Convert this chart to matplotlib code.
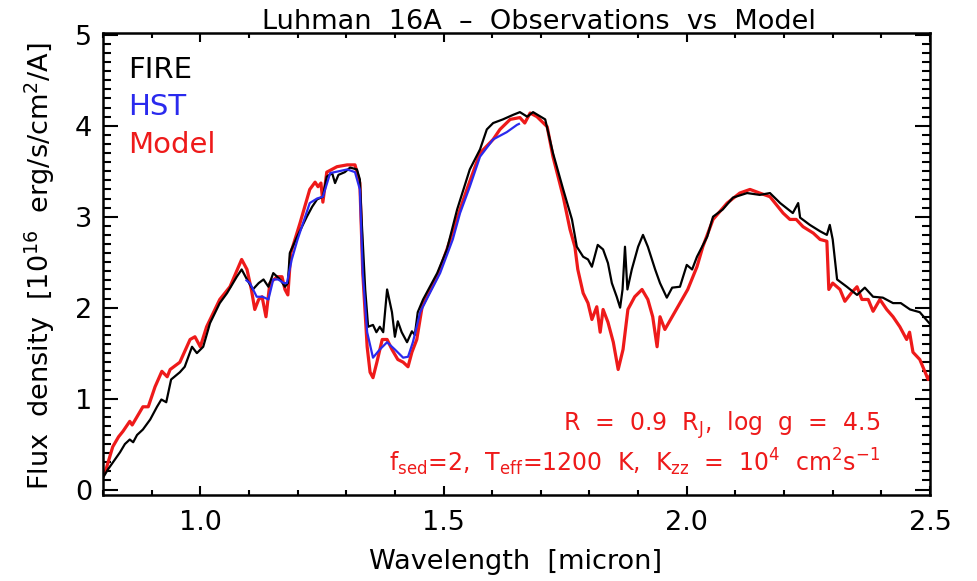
import matplotlib
matplotlib.use("Agg")
import matplotlib.pyplot as plt
from matplotlib.ticker import MultipleLocator

plt.rcParams['font.family'] = ['DejaVu Sans']
plt.rcParams['mathtext.default'] = 'regular'

# FIRE spectrum (black)
fire_wl = [0.800, 0.810, 0.835, 0.845, 0.855, 0.862, 0.870, 0.882, 0.897, 0.911,
           0.920, 0.930, 0.940, 0.958, 0.968, 0.983, 0.993, 1.006, 1.020, 1.040,
           1.055, 1.075, 1.085, 1.096, 1.108, 1.120, 1.130, 1.140, 1.150, 1.164,
           1.174, 1.180, 1.184, 1.199, 1.219, 1.230, 1.240, 1.252, 1.260, 1.271,
           1.277, 1.284, 1.297, 1.308, 1.322, 1.328, 1.332, 1.339, 1.345, 1.355,
           1.362, 1.369, 1.376, 1.384, 1.394, 1.400, 1.406, 1.414, 1.425, 1.435,
           1.441, 1.447, 1.458, 1.472, 1.487, 1.507, 1.528, 1.554, 1.575, 1.589,
           1.602, 1.622, 1.643, 1.657, 1.672, 1.684, 1.709, 1.725, 1.746, 1.764,
           1.774, 1.787, 1.797, 1.805, 1.817, 1.828, 1.838, 1.846, 1.856, 1.863,
           1.868, 1.873, 1.878, 1.887, 1.900, 1.910, 1.920, 1.935, 1.945, 1.959,
           1.970, 1.986, 2.000, 2.011, 2.021, 2.042, 2.054, 2.074, 2.095, 2.124,
           2.150, 2.171, 2.192, 2.218, 2.229, 2.233, 2.253, 2.274, 2.288, 2.294,
           2.300, 2.309, 2.329, 2.350, 2.366, 2.383, 2.403, 2.424, 2.440, 2.459,
           2.479, 2.500]
fire_flux = [0.13, 0.22, 0.41, 0.50, 0.55, 0.52, 0.60, 0.66, 0.77, 0.91,
             0.99, 0.96, 1.21, 1.29, 1.35, 1.57, 1.50, 1.57, 1.83, 2.05,
             2.16, 2.34, 2.42, 2.31, 2.20, 2.27, 2.31, 2.23, 2.38, 2.31,
             2.23, 2.27, 2.60, 2.78, 3.00, 3.11, 3.19, 3.22, 3.44, 3.48,
             3.37, 3.46, 3.49, 3.54, 3.52, 3.41, 2.93, 2.20, 1.79, 1.81,
             1.73, 1.79, 1.73, 2.20, 1.95, 1.68, 1.85, 1.73, 1.62, 1.74,
             1.70, 1.95, 2.09, 2.23, 2.38, 2.64, 3.08, 3.52, 3.74, 3.96,
             4.03, 4.07, 4.12, 4.15, 4.10, 4.15, 4.07, 3.70, 3.30, 2.97,
             2.67, 2.56, 2.53, 2.45, 2.69, 2.64, 2.49, 2.27, 2.12, 2.00,
             2.20, 2.67, 2.20, 2.42, 2.67, 2.80, 2.67, 2.42, 2.27, 2.11,
             2.22, 2.23, 2.47, 2.42, 2.56, 2.78, 3.00, 3.08, 3.21, 3.26,
             3.24, 3.26, 3.15, 3.04, 3.15, 2.99, 2.91, 2.84, 2.80, 2.91,
             2.75, 2.31, 2.23, 2.14, 2.22, 2.12, 2.11, 2.05, 2.05, 1.98,
             1.95, 1.82]

# HST spectrum (blue)
hst_wl = [1.095, 1.102, 1.116, 1.128, 1.140, 1.150, 1.160, 1.172, 1.178, 1.188,
          1.200, 1.225, 1.240, 1.252, 1.267, 1.285, 1.302, 1.318, 1.328, 1.334,
          1.343, 1.355, 1.369, 1.384, 1.400, 1.417, 1.427, 1.437, 1.452, 1.468,
          1.493, 1.519, 1.534, 1.554, 1.575, 1.602, 1.630, 1.651, 1.655]
hst_flux = [2.30, 2.27, 2.12, 2.12, 2.09, 2.31, 2.31, 2.27, 2.27, 2.53,
            2.75, 3.15, 3.20, 3.22, 3.48, 3.50, 3.52, 3.49, 3.30, 2.38,
            1.73, 1.45, 1.54, 1.62, 1.54, 1.45, 1.46, 1.62, 1.95, 2.12,
            2.38, 2.75, 3.04, 3.33, 3.66, 3.85, 3.93, 4.01, 4.02]

# Model spectrum (red)
model_wl = [0.800, 0.805, 0.820, 0.832, 0.841, 0.855, 0.860, 0.870, 0.882, 0.893,
            0.907, 0.921, 0.932, 0.938, 0.958, 0.979, 0.989, 1.000, 1.013, 1.040,
            1.061, 1.085, 1.096, 1.105, 1.112, 1.120, 1.127, 1.135, 1.143, 1.158,
            1.168, 1.174, 1.180, 1.186, 1.205, 1.225, 1.236, 1.242, 1.248, 1.252,
            1.260, 1.281, 1.302, 1.318, 1.328, 1.334, 1.343, 1.349, 1.355, 1.363,
            1.374, 1.384, 1.394, 1.406, 1.417, 1.427, 1.435, 1.445, 1.456, 1.466,
            1.487, 1.507, 1.534, 1.548, 1.575, 1.602, 1.616, 1.637, 1.657, 1.667,
            1.678, 1.692, 1.713, 1.725, 1.746, 1.760, 1.770, 1.776, 1.787, 1.797,
            1.805, 1.815, 1.822, 1.828, 1.838, 1.849, 1.859, 1.869, 1.879, 1.893,
            1.908, 1.920, 1.930, 1.939, 1.945, 1.955, 1.970, 1.986, 2.002, 2.021,
            2.033, 2.054, 2.083, 2.109, 2.130, 2.150, 2.171, 2.198, 2.212, 2.225,
            2.239, 2.260, 2.274, 2.288, 2.292, 2.300, 2.315, 2.325, 2.338, 2.350,
            2.360, 2.373, 2.383, 2.397, 2.411, 2.424, 2.438, 2.452, 2.458, 2.465,
            2.479, 2.490, 2.496, 2.500]
model_flux = [0.15, 0.20, 0.47, 0.58, 0.64, 0.75, 0.71, 0.80, 0.91, 0.91,
              1.13, 1.30, 1.24, 1.32, 1.40, 1.65, 1.68, 1.57, 1.79, 2.09,
              2.23, 2.53, 2.42, 2.20, 1.98, 2.09, 2.12, 1.90, 2.27, 2.34,
              2.34, 2.20, 2.14, 2.60, 2.93, 3.30, 3.38, 3.33, 3.37, 3.16,
              3.49, 3.55, 3.57, 3.57, 3.37, 2.38, 1.57, 1.29, 1.23, 1.40,
              1.65, 1.65, 1.54, 1.43, 1.40, 1.35, 1.51, 1.65, 2.01, 2.12,
              2.34, 2.64, 3.08, 3.30, 3.70, 3.85, 3.96, 4.07, 4.09, 4.03,
              4.14, 4.10, 3.99, 3.66, 3.22, 2.86, 2.67, 2.42, 2.16, 2.05,
              1.87, 2.01, 1.73, 1.98, 1.84, 1.62, 1.32, 1.54, 1.98, 2.12,
              2.20, 2.09, 1.90, 1.57, 1.90, 1.76, 1.90, 2.05, 2.20, 2.45,
              2.67, 2.97, 3.15, 3.26, 3.30, 3.26, 3.22, 3.04, 2.97, 2.97,
              2.89, 2.82, 2.75, 2.73, 2.20, 2.27, 2.20, 2.07, 2.16, 2.23,
              2.09, 2.09, 1.96, 2.09, 1.98, 1.90, 1.79, 1.65, 1.73, 1.51,
              1.43, 1.29, 1.21, 1.25]

RED = '#ee1a1a'
BLUE = '#2a2aee'

fig = plt.figure(figsize=(9.78, 5.81), dpi=100)
ax = fig.add_axes([103 / 978, 86 / 581, 827 / 978, 462 / 581])

ax.plot(model_wl, model_flux, color=RED, lw=2.3)
ax.plot(fire_wl, fire_flux, color='black', lw=1.6)
ax.plot(hst_wl, hst_flux, color=BLUE, lw=1.6)

ax.set_xlim(0.8, 2.5)
ax.set_ylim(-0.06, 5.02)
ax.xaxis.set_minor_locator(MultipleLocator(0.1))
ax.yaxis.set_major_locator(MultipleLocator(1))
ax.yaxis.set_minor_locator(MultipleLocator(0.1))
ax.set_xticks([1.0, 1.5, 2.0, 2.5])
ax.set_xticklabels(['1.0', '1.5', '2.0', '2.5'])

ax.tick_params(axis='x', which='major', direction='in', length=6.5, width=1.5,
               top=True, labelsize=19.5, pad=11)
ax.tick_params(axis='x', which='minor', direction='in', length=3.3, width=1.5, top=True)
ax.tick_params(axis='y', which='major', direction='in', length=11, width=1.5,
               right=True, labelsize=19.5, pad=8)
ax.tick_params(axis='y', which='minor', direction='in', length=5.5, width=1.5, right=True)
for s in ax.spines.values():
    s.set_linewidth(1.8)

# legend as coloured text
ax.text(0.030, 0.92, 'FIRE', color='black', fontsize=21, transform=ax.transAxes, va='center')
ax.text(0.030, 0.84, 'HST', color=BLUE, fontsize=21, transform=ax.transAxes, va='center')
ax.text(0.030, 0.757, 'Model', color=RED, fontsize=21, transform=ax.transAxes, va='center')

ax.text(0.94, 0.152, r'R  =  0.9  R$_{J}$,  log  g  =  4.5', color=RED, fontsize=17,
        transform=ax.transAxes, ha='right', va='center')
ax.text(0.94, 0.071,
        r'f$_{sed}$=2,  T$_{eff}$=1200  K,  K$_{zz}$  =  10$^{4}$  cm$^{2}$s$^{-1}$',
        color=RED, fontsize=17, transform=ax.transAxes, ha='right', va='center')

fig.text(539 / 978, 1 - 29 / 581, 'Luhman  16A  \u2013  Observations  vs  Model',
         ha='center', va='baseline', fontsize=19.5)
fig.text(516 / 978, 1 - 562 / 581, 'Wavelength  [micron]', ha='center', va='center', fontsize=19.5)
fig.text(40 / 978, 1 - 266 / 581, r'Flux  density  [10$^{16}$  erg/s/cm$^{2}$/A]',
         ha='center', va='center', rotation=90, fontsize=19.5)

fig.savefig('out.png', dpi=100)
